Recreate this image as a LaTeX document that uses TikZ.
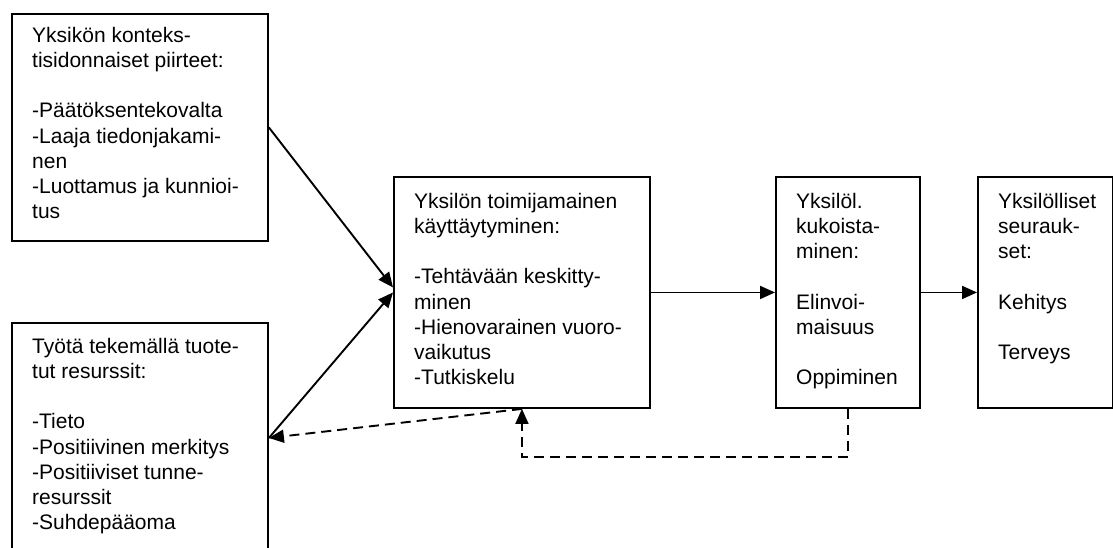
\documentclass[tikz,border=0pt]{standalone}
\usepackage{fontspec}
\setmainfont{Liberation Sans}
\usetikzlibrary{arrows.meta}
\begin{document}
\begin{tikzpicture}[x=1pt,y=-1pt,
  box/.style={draw, line width=1.9pt, inner sep=0pt, anchor=north west},
  txt/.style={anchor=north west, inner sep=0pt, align=left, font=\fontsize{21}{25.2}\selectfont},
  conn/.style={line width=1.9pt, -{Triangle[length=15pt,width=13pt]}},
  fb/.style={conn, dash pattern=on 10pt off 6pt}]
\clip (0,0) rectangle (1113,547);
\fill[white] (0,0) rectangle (1113,547);
% boxes
\node[box, minimum width=256pt, minimum height=227pt] (A) at (11,13) {};
\node[box, minimum width=256pt, minimum height=230pt] (B) at (11,322) {};
\node[box, minimum width=256pt, minimum height=231pt] (C) at (393,176) {};
\node[box, minimum width=144pt, minimum height=231pt] (D) at (775,176) {};
\node[box, minimum width=135pt, minimum height=231pt] (E) at (977,176) {};
% texts
\node[txt] (At) at (32,27) {Yksikön konteks-\\tisidonnaiset piirteet:\\[25pt]-Päätöksentekovalta\\-Laaja tiedonjakami-\\nen\\-Luottamus ja kunnioi-\\tus};
\node[txt] (Bt) at (32,338) {Työtä tekemällä tuote-\\tut resurssit:\\[25pt]-Tieto\\-Positiivinen merkitys\\-Positiiviset tunne-\\resurssit\\-Suhdepääoma};
\node[txt] (Ct) at (414,193) {Yksilön toimijamainen\\käyttäytyminen:\\[25pt]-Tehtävään keskitty-\\minen\\-Hienovarainen vuoro-\\vaikutus\\-Tutkiskelu};
\node[txt] (Dt) at (796,193) {Yksilöl.\\kukoista-\\minen:\\[25pt]Elinvoi-\\maisuus\\[25pt]Oppiminen};
\node[txt] (Et) at (998,193) {Yksilölliset\\seurauk-\\set:\\[25pt]Kehitys\\[25pt]Terveys};
% connectors
\path (C.west) ++(0,-5) coordinate (Ca);
\coordinate (Bp) at (B.east);
\draw[conn] (A.east) -- (Ca);
\draw[conn] (Bp) -- (C.west);
\draw[fb] (C.south) -- (Bp);
\draw[fb] (D.south) -- ++(0,48) -| (C.south);
\draw[conn] (C.east) -- (D.west);
\draw[conn] (D.east) -- (E.west);
\end{tikzpicture}
\end{document}
